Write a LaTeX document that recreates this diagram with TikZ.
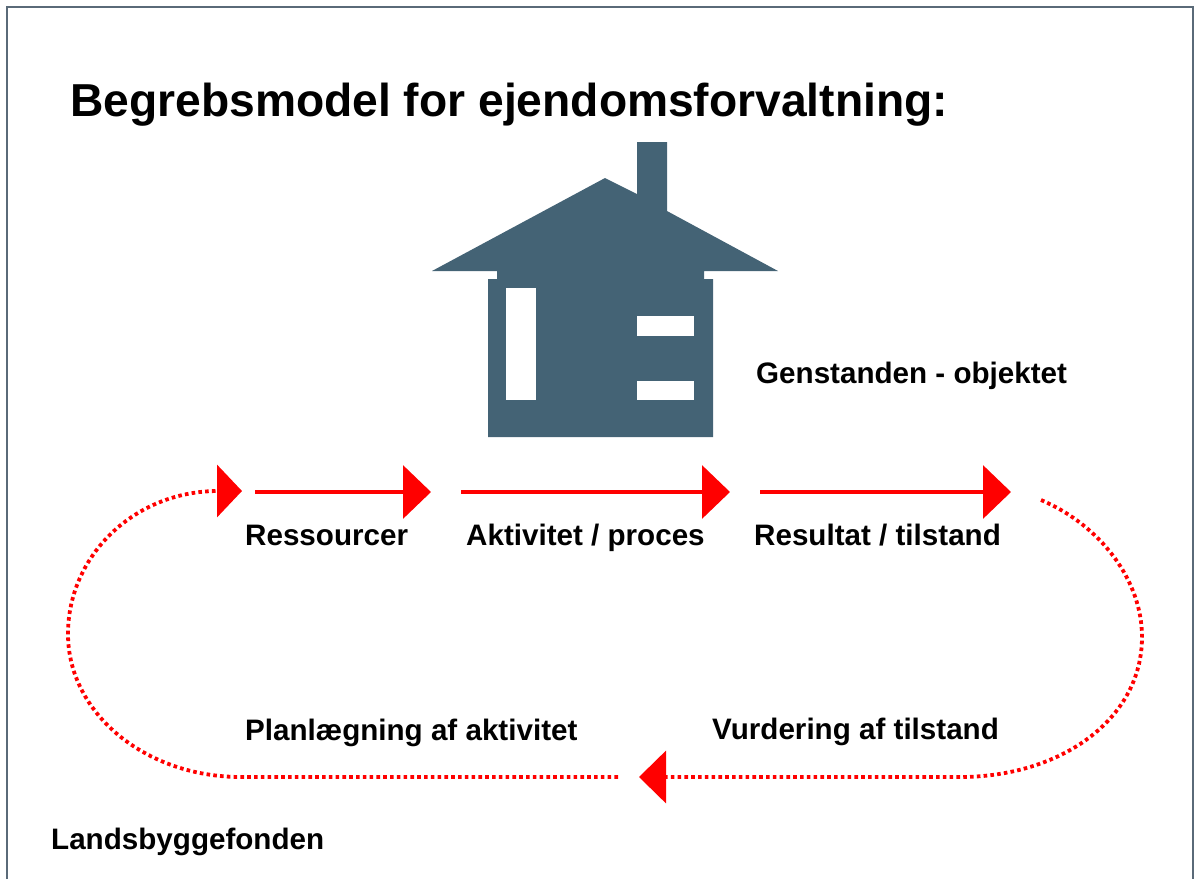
\documentclass[tikz,border=0pt]{standalone}
\usepackage{fontspec}
\setmainfont{Liberation Sans}
\usetikzlibrary{arrows.meta}
\definecolor{housecol}{RGB}{68,99,117}
\definecolor{framecol}{RGB}{90,106,120}
\definecolor{arrred}{RGB}{255,0,0}
\tikzset{
  lbl/.style={font=\fontsize{29.6}{34}\selectfont\bfseries, anchor=base west, inner sep=0pt},
  ttl/.style={font=\fontsize{46.2}{52}\selectfont\bfseries, anchor=base west, inner sep=0pt},
  flow/.style={draw=arrred, line width=3.5pt, -{Triangle[length=28pt,width=53pt]}},
  loopline/.style={draw=arrred, line width=3.8pt, dash pattern=on 3.6pt off 3.2pt},
}
\begin{document}
\begin{tikzpicture}[x=1pt,y=-1pt]
\useasboundingbox (0,0) rectangle (1195,879);
% frame
\draw[framecol, line width=1.5pt] (7,879) -- (7,7) -- (1193,7) -- (1193,879);
% title
\node[ttl] (title) at (70,116) {Begrebsmodel for ejendomsforvaltning:};
% house
\fill[housecol] (432,271) -- (605,178) -- (637,194) -- (637,142) -- (667,142) -- (667,211)
  -- (778,271) -- (704,271) -- (704,279) -- (713,279) -- (713,437) -- (488,437)
  -- (488,279) -- (497,279) -- (497,271) -- cycle;
\fill[white] (506,288) rectangle (536,400);
\fill[white] (637,316) rectangle (694,336);
\fill[white] (637,381) rectangle (694,400);
\node[lbl] (obj) at (756,383.5) {Genstanden - objektet};
% flow coordinates
\coordinate (s1) at (255,492);
\coordinate (e1) at (431,492);
\coordinate (s2) at (461,492);
\coordinate (e2) at (730,492);
\coordinate (s3) at (760,492);
\coordinate (e3) at (1011,492);
\coordinate (rtop) at (1041,500);
\coordinate (rmid) at (1142,637);
\coordinate (rbot) at (960,777);
\coordinate (btip) at (639,777);
\coordinate (bstart) at (618,777);
\coordinate (lbot) at (241,777);
\coordinate (lmid) at (68,634);
\coordinate (ltip) at (242,491);
% solid arrows
\draw[flow] (s1) -- (e1);
\draw[flow] (s2) -- (e2);
\draw[flow] (s3) -- (e3);
% dotted loop
\draw[loopline, -{Triangle[length=27pt,width=52pt]}] (rtop) .. controls (1100,525) and (1142,580) .. (rmid)
  .. controls (1142,720) and (1060,777) .. (rbot) -- (btip);
\draw[loopline, -{Triangle[length=25pt,width=52pt]}] (bstart) -- (lbot)
  .. controls (145,777) and (68,713) .. (lmid)
  .. controls (68,555) and (135,491) .. (ltip);
% labels
\node[lbl] (res) at (245,545) {Ressourcer};
\node[lbl] (akt) at (466,545) {Aktivitet / proces};
\node[lbl] (rt) at (754,545) {Resultat / tilstand};
\node[lbl] (plan) at (245,740) {Planlægning af aktivitet};
\node[lbl] (vur) at (712,739) {Vurdering af tilstand};
\node[lbl] (lbf) at (51,849) {Landsbyggefonden};
\end{tikzpicture}
\end{document}
